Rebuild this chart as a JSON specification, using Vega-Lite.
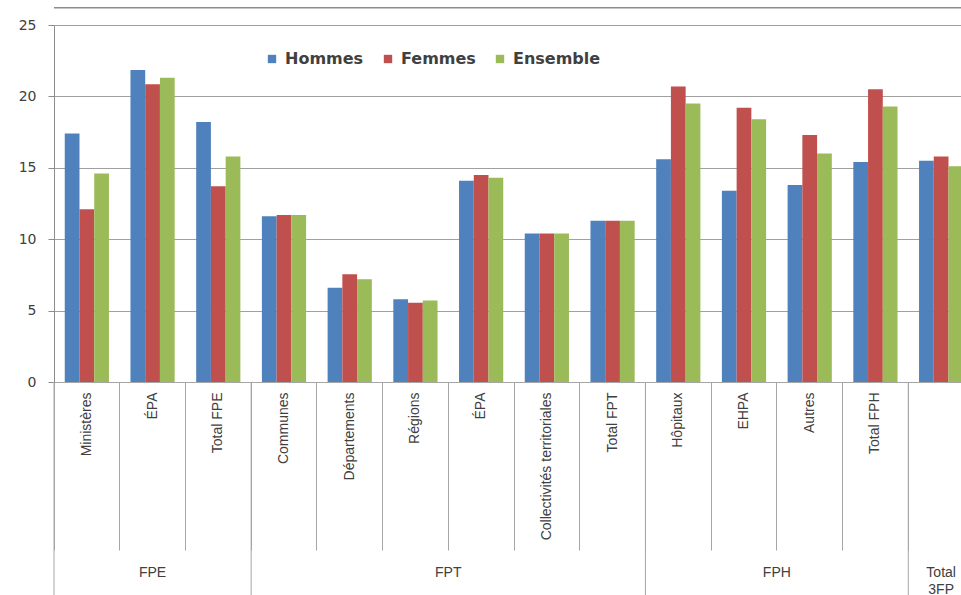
{
  "$schema": "https://vega.github.io/schema/vega-lite/v6.json",
  "width": 920,
  "height": 357,
  "autosize": {"type": "none"},
  "padding": {"left": 54, "top": 25, "right": -13, "bottom": 213},
  "background": "white",
  "config": {"view": {"stroke": null}, "font": "Liberation Sans"},
  "datasets": {
    "bars": [
      {"key": "FPE|Ministères", "Hommes": 17.4, "Femmes": 12.1, "Ensemble": 14.6},
      {"key": "FPE|ÉPA", "Hommes": 21.85, "Femmes": 20.85, "Ensemble": 21.3},
      {"key": "FPE|Total FPE", "Hommes": 18.2, "Femmes": 13.7, "Ensemble": 15.8},
      {"key": "FPT|Communes", "Hommes": 11.6, "Femmes": 11.7, "Ensemble": 11.7},
      {"key": "FPT|Départements", "Hommes": 6.6, "Femmes": 7.55, "Ensemble": 7.2},
      {"key": "FPT|Régions", "Hommes": 5.8, "Femmes": 5.55, "Ensemble": 5.7},
      {"key": "FPT|ÉPA", "Hommes": 14.1, "Femmes": 14.5, "Ensemble": 14.3},
      {"key": "FPT|Collectivités territoriales", "Hommes": 10.4, "Femmes": 10.4, "Ensemble": 10.4},
      {"key": "FPT|Total FPT", "Hommes": 11.3, "Femmes": 11.3, "Ensemble": 11.3},
      {"key": "FPH|Hôpitaux", "Hommes": 15.6, "Femmes": 20.7, "Ensemble": 19.5},
      {"key": "FPH|EHPA", "Hommes": 13.4, "Femmes": 19.2, "Ensemble": 18.4},
      {"key": "FPH|Autres", "Hommes": 13.8, "Femmes": 17.3, "Ensemble": 16.0},
      {"key": "FPH|Total FPH", "Hommes": 15.4, "Femmes": 20.5, "Ensemble": 19.3},
      {"key": "3FP|", "Hommes": 15.5, "Femmes": 15.8, "Ensemble": 15.1}
    ],
    "groupsCenter": [
      {"key": "FPE|ÉPA", "label": "FPE"},
      {"key": "3FP|", "label": "Total\n3FP"}
    ],
    "groupsEdge": [
      {"key": "FPT|ÉPA", "label": "FPT"},
      {"key": "FPH|Autres", "label": "FPH"}
    ],
    "bounds": [
      {"key": "FPE|Ministères"},
      {"key": "FPT|Communes"},
      {"key": "FPH|Hôpitaux"},
      {"key": "3FP|"}
    ]
  },
  "layer": [
    {
      "data": {"values": [{}]},
      "mark": {"type": "rule", "color": "#8c8c8c", "strokeWidth": 1.5},
      "encoding": {
        "y": {"datum": 26.2, "type": "quantitative", "scale": {"domain": [0, 25]}}
      }
    },
    {
      "data": {"name": "bars"},
      "transform": [{"fold": ["Hommes", "Femmes", "Ensemble"], "as": ["serie", "value"]}],
      "mark": {"type": "bar"},
      "encoding": {
        "x": {
          "field": "key", "type": "nominal",
          "scale": {"domain": ["FPE|Ministères", "FPE|ÉPA", "FPE|Total FPE", "FPT|Communes", "FPT|Départements", "FPT|Régions", "FPT|ÉPA", "FPT|Collectivités territoriales", "FPT|Total FPT", "FPH|Hôpitaux", "FPH|EHPA", "FPH|Autres", "FPH|Total FPH", "3FP|"], "paddingInner": 0, "paddingOuter": 0},
          "axis": {
            "title": null, "bandPosition": 0, "tickSize": 168, "tickColor": "#a6a6a6", "domainColor": "#a6a6a6",
            "labelAngle": -90, "labelAlign": "right", "labelBaseline": "middle", "labelPadding": -158,
            "labelFont": "Liberation Sans", "labelFontSize": 14, "labelColor": "#404040",
            "labelExpr": "split(datum.value, '|')[1]", "labelOverlap": false, "labelLimit": 300, "grid": false
          }
        },
        "xOffset": {"field": "serie", "type": "nominal", "scale": {"domain": ["Hommes", "Femmes", "Ensemble"], "paddingInner": 0, "paddingOuter": 0.73}},
        "y": {
          "field": "value", "type": "quantitative", "scale": {"domain": [0, 25]},
          "axis": {
            "title": null, "values": [0, 5, 10, 15, 20, 25], "grid": true, "gridColor": "#a0a0a0",
            "domainColor": "#8c8c8c", "tickColor": "#8c8c8c", "tickSize": 6, "labelPadding": 12,
            "labelFont": "DejaVu Sans", "labelFontSize": 14, "labelColor": "#404040"
          }
        },
        "color": {
          "field": "serie", "type": "nominal",
          "scale": {"domain": ["Hommes", "Femmes", "Ensemble"], "range": ["#4F81BD", "#C0504D", "#9BBB59"]},
          "legend": {
            "title": null, "orient": "none", "legendX": 210, "legendY": 26, "direction": "horizontal",
            "symbolType": "square", "symbolSize": 70, "symbolStrokeWidth": 0,
            "labelFont": "DejaVu Sans", "labelFontSize": 16, "labelFontWeight": "bold", "labelColor": "#404040",
            "columnPadding": 16, "labelOffset": 5, "labelLimit": 200
          }
        }
      }
    },
    {
      "data": {"name": "bounds"},
      "mark": {"type": "rule", "color": "#a6a6a6"},
      "encoding": {
        "x": {"field": "key", "type": "nominal", "bandPosition": 0,
          "scale": {"domain": ["FPE|Ministères", "FPE|ÉPA", "FPE|Total FPE", "FPT|Communes", "FPT|Départements", "FPT|Régions", "FPT|ÉPA", "FPT|Collectivités territoriales", "FPT|Total FPT", "FPH|Hôpitaux", "FPH|EHPA", "FPH|Autres", "FPH|Total FPH", "3FP|"], "paddingInner": 0, "paddingOuter": 0}},
        "y": {"datum": 0, "type": "quantitative", "scale": {"domain": [0, 25]}},
        "y2": {"datum": -14.95}
      }
    },
    {
      "data": {"name": "groupsCenter"},
      "mark": {"type": "text", "lineBreak": "\n", "baseline": "top", "fontSize": 14, "color": "#404040", "lineHeight": 17, "font": "Liberation Sans"},
      "encoding": {
        "x": {"field": "key", "type": "nominal", "bandPosition": 0.5,
          "scale": {"domain": ["FPE|Ministères", "FPE|ÉPA", "FPE|Total FPE", "FPT|Communes", "FPT|Départements", "FPT|Régions", "FPT|ÉPA", "FPT|Collectivités territoriales", "FPT|Total FPT", "FPH|Hôpitaux", "FPH|EHPA", "FPH|Autres", "FPH|Total FPH", "3FP|"], "paddingInner": 0, "paddingOuter": 0}},
        "y": {"datum": -12.88, "type": "quantitative", "scale": {"domain": [0, 25]}},
        "text": {"field": "label"}
      }
    },
    {
      "data": {"name": "groupsEdge"},
      "mark": {"type": "text", "baseline": "top", "fontSize": 14, "color": "#404040", "font": "Liberation Sans"},
      "encoding": {
        "x": {"field": "key", "type": "nominal", "bandPosition": 0,
          "scale": {"domain": ["FPE|Ministères", "FPE|ÉPA", "FPE|Total FPE", "FPT|Communes", "FPT|Départements", "FPT|Régions", "FPT|ÉPA", "FPT|Collectivités territoriales", "FPT|Total FPT", "FPH|Hôpitaux", "FPH|EHPA", "FPH|Autres", "FPH|Total FPH", "3FP|"], "paddingInner": 0, "paddingOuter": 0}},
        "y": {"datum": -12.88, "type": "quantitative", "scale": {"domain": [0, 25]}},
        "text": {"field": "label"}
      }
    }
  ]
}
